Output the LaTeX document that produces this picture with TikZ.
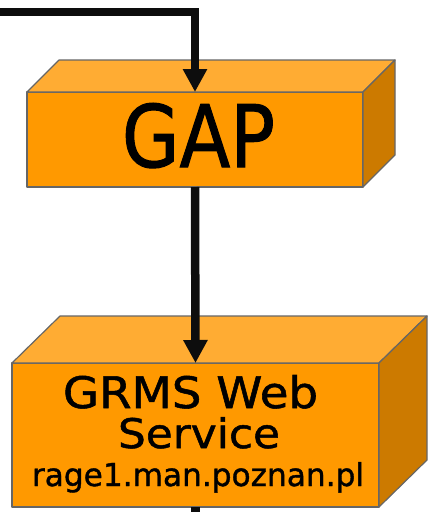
\documentclass[tikz,border=0pt]{standalone}
\usepackage{fontspec}
\usepackage{graphicx}
\setmainfont[FakeBold=1.2]{DejaVu Sans}
\usetikzlibrary{arrows.meta}
\definecolor{frontc}{RGB}{255,153,0}
\definecolor{topc}{RGB}{255,172,51}
\definecolor{sidec}{RGB}{204,122,0}
\definecolor{edgec}{RGB}{102,102,102}
\tikzset{
  face/.style={draw=edgec, line width=1.2pt, line join=round},
  frontface/.style={face, fill=frontc, rectangle, inner sep=0pt, outer sep=0pt},
  lbl/.style={anchor=base, inner sep=0pt, outer sep=0pt, text=black},
  flow/.style={line width=8.5pt, black!95, -{Triangle[length=23pt,width=23pt]}},
  flowplain/.style={line width=8.5pt, black!95},
}
\begin{document}
\begin{tikzpicture}[x=1pt,y=-1pt]
\useasboundingbox (0,0) rectangle (431,512);
% GAP box
\node[frontface, minimum width=336pt, minimum height=95pt] (gap) at (195,139.5) {};
\draw[face, fill=topc] (gap.north west) -- ++(32,-32) -- ++(336,0) -- (gap.north east) -- cycle;
\draw[face, fill=sidec] (gap.north east) -- ++(32,-32) -- ++(0,95) -- (gap.south east) -- cycle;
\node[lbl] (gaplbl) at (198.5,167) {\resizebox{153pt}{64pt}{GAP}};
% GRMS box
\node[frontface, minimum width=367pt, minimum height=144pt] (grms) at (195.5,435) {};
\draw[face, fill=topc] (grms.north west) -- ++(48,-47) -- ++(367,0) -- (grms.north east) -- cycle;
\draw[face, fill=sidec] (grms.north east) -- ++(48,-47) -- ++(0,144) -- (grms.south east) -- cycle;
\node[lbl] (l1) at (190.5,408) {\resizebox{255pt}{33pt}{GRMS Web}};
\node[lbl] (l2) at (199,448) {\resizebox{162pt}{31pt}{Service}};
\node[lbl] (l3) at (198,486) {\resizebox{332pt}{24pt}{rage1.man.poznan.pl}};
% connectors
\coordinate (in) at (0,12);
\coordinate (out) at (195.5,512);
\draw[flow] (in) -| (gap.north);
\draw[flow] (gap.south) -- (grms.north);
\draw[flowplain] (grms.south) -- (out);
\end{tikzpicture}
\end{document}
